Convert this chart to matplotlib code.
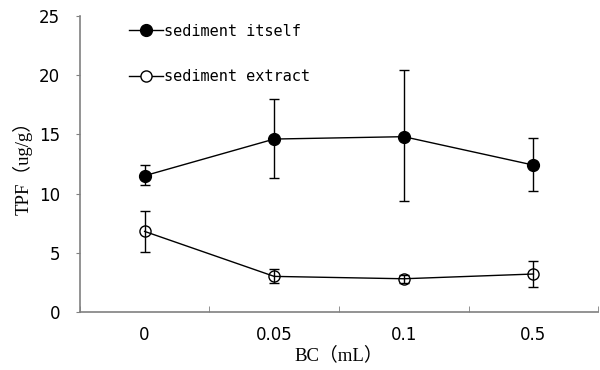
import matplotlib
matplotlib.use("Agg")
import matplotlib.pyplot as plt
from matplotlib.lines import Line2D
import numpy as np

# BC dose categories
categories = ["0", "0.05", "0.1", "0.5"]

# sediment itself: mean, lower and upper error
itself_mean = [11.5, 14.6, 14.8, 12.4]
itself_low = [0.8, 3.3, 5.4, 2.2]
itself_high = [0.9, 3.4, 5.6, 2.3]

# sediment extract
extract_mean = [6.8, 3.0, 2.8, 3.2]
extract_low = [1.7, 0.6, 0.4, 1.1]
extract_high = [1.7, 0.6, 0.3, 1.1]

label_font = ["Liberation Serif", "Noto Sans CJK SC"]
gray = "#808080"

fig = plt.figure(figsize=(6, 3.7), dpi=100)
ax = fig.add_axes([0.133, 0.157, 0.864, 0.80])

x = np.arange(len(categories))
ax.errorbar(x, itself_mean, yerr=[itself_low, itself_high], color="black",
            marker="o", markersize=8.5, markerfacecolor="black", linewidth=1,
            elinewidth=1, capsize=3.5, capthick=1)
ax.errorbar(x, extract_mean, yerr=[extract_low, extract_high], color="black",
            marker="o", markersize=8, markerfacecolor="none", linewidth=1,
            elinewidth=1, capsize=3.5, capthick=1)

ax.set_xlim(-0.5, 3.5)
ax.set_ylim(0, 25)
ax.set_yticks(range(0, 26, 5))
ax.set_xticks(x)
ax.set_xticklabels(categories)
ax.set_xticks(np.arange(-0.5, 3.6, 1), minor=True)
ax.tick_params(axis="x", which="major", length=0, pad=10, labelsize=12)
ax.tick_params(axis="x", which="minor", direction="in", length=4, color=gray)
ax.tick_params(axis="y", direction="out", length=3, color=gray, labelsize=12, pad=11)

for s in ["top", "right"]:
    ax.spines[s].set_visible(False)
for s in ["left", "bottom"]:
    ax.spines[s].set_color(gray)
    ax.spines[s].set_linewidth(1.2)

ax.set_ylabel("TPF（ug/g）", family=label_font, fontsize=13.5, labelpad=5)
ax.set_xlabel("BC（mL）", family=label_font, fontsize=13.5, labelpad=2)

handles = [
    Line2D([], [], color="black", marker="o", markersize=8.5, markerfacecolor="black", linewidth=1),
    Line2D([], [], color="black", marker="o", markersize=8, markerfacecolor="white", linewidth=1),
]
leg = ax.legend(handles, ["sediment itself", "sediment extract"], loc="upper left",
                bbox_to_anchor=(0.08, 1.0), frameon=False,
                fontsize=11, handlelength=2.2, handletextpad=0.1,
                labelspacing=2.0, borderpad=0)
for t in leg.get_texts():
    t.set_family("DejaVu Sans Mono")

fig.savefig("out.png", dpi=100)
